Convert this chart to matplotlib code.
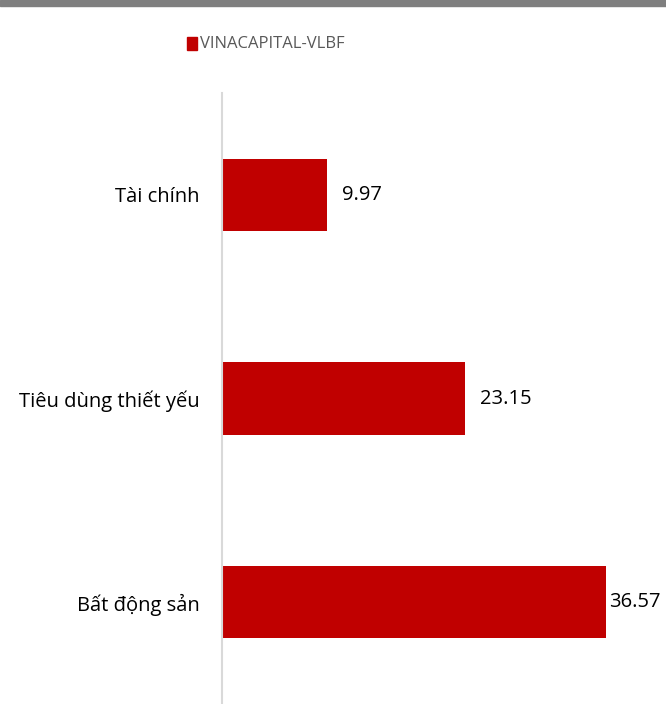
import matplotlib
matplotlib.use("Agg")
import matplotlib.pyplot as plt
from matplotlib.patches import Rectangle

categories = ["Tài chính", "Tiêu dùng thiết yếu", "Bất động sản"]
values = [9.97, 23.15, 36.57]
series_name = "VINACAPITAL-VLBF"
bar_color = "#C00000"

plt.rcParams['font.family'] = ['Open Sans', 'DejaVu Sans']

W, H = 666, 704
fig = plt.figure(figsize=(W / 100, H / 100), dpi=100)

# top gray band
fig.patches.append(Rectangle((0, 1 - 6 / H), 1, 6 / H, transform=fig.transFigure,
                             color="#7F7F7F", zorder=0))

ax = fig.add_axes([222 / W, 0, 1 - 222 / W, (H - 93) / H])
n = len(categories)
ypos = list(range(n))
ax.barh(ypos, values, height=0.354, color=bar_color, zorder=2)
ax.set_ylim(n - 0.5, -0.5)
ax.set_xlim(0, (W - 222) / 10.5)
ax.set_yticks(ypos)
ax.set_yticklabels(categories, fontsize=14.5, color="#000000")
ax.tick_params(axis="y", length=0, pad=16)
ax.set_xticks([])
for s in ["top", "right", "bottom"]:
    ax.spines[s].set_visible(False)
ax.spines["left"].set_color("#D9D9D9")
ax.spines["left"].set_linewidth(1.5)

xmax = ax.get_xlim()[1]
for y, v in zip(ypos, values):
    room_px = (xmax - v) * 10.5
    off = 15 if room_px > 90 else 3
    ax.annotate(f"{v:.2f}", xy=(v, y), xytext=(off, 0), textcoords="offset pixels",
                va="center", ha="left", fontsize=14.5, color="#000000")

# legend
fig.patches.append(Rectangle((187 / W, 1 - 50 / H), 10 / W, 13 / H, transform=fig.transFigure,
                             color=bar_color))
fig.text(200 / W, 1 - 44 / H, series_name, fontsize=12, color="#595959",
         va="center", ha="left")

fig.savefig("out.png", dpi=100)
